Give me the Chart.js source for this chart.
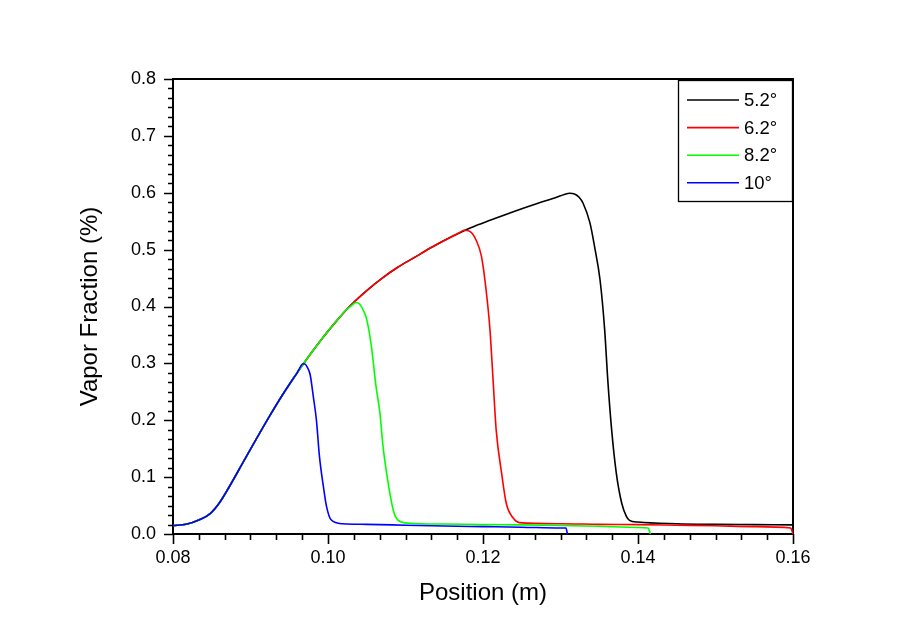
<!DOCTYPE html>
<html>
<head>
<meta charset="utf-8">
<title>Vapor Fraction vs Position</title>
<script src="https://cdn.jsdelivr.net/npm/chart.js@4/dist/chart.umd.min.js"></script>
<style>
  html, body { margin: 0; padding: 0; background: #ffffff; }
  #wrap { width: 911px; height: 634px; position: relative; }
</style>
</head>
<body>
<div id="wrap"><canvas id="c" width="911" height="634"></canvas></div>
<script>
// Shared rising branch (all cone angles follow it until they collapse)
const riseX = [0.0800, 0.0817, 0.0834, 0.0848, 0.0860, 0.0873, 0.0890, 0.0907, 0.0924, 0.0941,
               0.0955, 0.0975, 0.0992, 0.1010, 0.1030, 0.1050, 0.1070, 0.1090, 0.1110, 0.1135,
               0.1160, 0.1185, 0.1210, 0.1240, 0.1270, 0.1295];
const riseY = [0.015, 0.017, 0.025, 0.036, 0.055, 0.084, 0.125, 0.166, 0.206, 0.244,
               0.273, 0.312, 0.343, 0.373, 0.403, 0.428, 0.450, 0.469, 0.485, 0.505,
               0.523, 0.539, 0.552, 0.567, 0.581, 0.592];

// Collapse and tail of each series
const x52 = [0.1305, 0.1312, 0.1318, 0.1324, 0.1329, 0.1338, 0.1344, 0.1351, 0.1357, 0.1361,
             0.1366, 0.1372, 0.1379, 0.1385, 0.1389, 0.1400, 0.1450, 0.1500, 0.1550, 0.1600];
const y52 = [0.597, 0.599, 0.598, 0.592, 0.582, 0.547, 0.505, 0.447, 0.359, 0.271,
             0.183, 0.107, 0.054, 0.031, 0.024, 0.021, 0.018, 0.017, 0.0165, 0.016];

const x62 = [0.1170, 0.1176, 0.1183, 0.1191, 0.1198, 0.1204, 0.1209, 0.1213, 0.1217, 0.1224,
             0.1230, 0.1239, 0.1247, 0.1300, 0.1350, 0.1400, 0.1450, 0.1500, 0.1550, 0.1597, 0.1600];
const y62 = [0.530, 0.534, 0.532, 0.517, 0.488, 0.429, 0.359, 0.271, 0.183, 0.107,
             0.054, 0.028, 0.020, 0.018, 0.017, 0.0165, 0.0155, 0.0145, 0.013, 0.0105, 0.0];

const x82 = [0.1022, 0.1030, 0.1036, 0.1041, 0.1046, 0.1050, 0.1056, 0.1062, 0.1067, 0.1071,
             0.1077, 0.1084, 0.1090, 0.1105, 0.1150, 0.1200, 0.1250, 0.1300, 0.1350, 0.1400,
             0.1413, 0.1416];
const y82 = [0.392, 0.401, 0.407, 0.404, 0.392, 0.377, 0.330, 0.259, 0.213, 0.154,
             0.095, 0.043, 0.025, 0.019, 0.0175, 0.0165, 0.016, 0.015, 0.0135, 0.0115,
             0.0105, 0.0];

const x10 = [0.0960, 0.0964, 0.0967, 0.0970, 0.0973, 0.0977, 0.0981, 0.0985, 0.0989, 0.0994,
             0.0998, 0.1004, 0.1019, 0.1050, 0.1100, 0.1150, 0.1200, 0.1250, 0.1300, 0.1307, 0.1309];
const y10 = [0.283, 0.293, 0.299, 0.299, 0.294, 0.280, 0.242, 0.201, 0.136, 0.084,
             0.049, 0.025, 0.018, 0.017, 0.0155, 0.014, 0.013, 0.012, 0.0105, 0.0105, 0.0];

const seriesLabels = ['5.2°', '6.2°', '8.2°', '10°'];
const seriesColors = ['#000000', '#ff0000', '#00ff00', '#0000ff'];
const seriesX = [x52, x62, x82, x10];
const seriesY = [y52, y62, y82, y10];

const xTicks = [0.08, 0.10, 0.12, 0.14, 0.16];
const yTicks = [0.0, 0.1, 0.2, 0.3, 0.4, 0.5, 0.6, 0.7, 0.8];

const FONT = "'Liberation Sans', Arial, Helvetica, sans-serif";

// Rising branch up to where a series departs, followed by its own branch
function buildPoints(bx, by) {
  const pts = [];
  for (let i = 0; i < riseX.length; i++) {
    if (riseX[i] < bx[0]) pts.push({ x: riseX[i], y: riseY[i] });
  }
  for (let i = 0; i < bx.length; i++) pts.push({ x: bx[i], y: by[i] });
  return pts;
}

const datasets = seriesLabels.map((lab, i) => ({
  label: lab,
  data: buildPoints(seriesX[i], seriesY[i]),
  borderColor: seriesColors[i],
  backgroundColor: seriesColors[i],
  borderWidth: 1.6,
  pointRadius: 0,
  fill: false,
  cubicInterpolationMode: 'monotone',
  order: seriesLabels.length - 1 - i
}));

// Frame, outward major/minor ticks, and boxed legend
const framePlugin = {
  id: 'framePlugin',
  beforeDatasetsDraw(chart) {
    const { ctx, chartArea: a, scales } = chart;
    const xs = scales.x, ys = scales.y;
    ctx.save();
    ctx.strokeStyle = '#000';
    ctx.lineWidth = 2;
    ctx.strokeRect(a.left, a.top, a.right - a.left, a.bottom - a.top);
    ctx.lineWidth = 1.6;
    ctx.beginPath();
    // x ticks: major every 0.02, five minors between
    const xStep = 0.02 / 6;
    for (let k = 0; ; k++) {
      const v = xs.min + k * xStep;
      if (v > xs.max + 1e-9) break;
      const px = Math.round(xs.getPixelForValue(v)) + 0.5;
      const len = (k % 6 === 0) ? 10 : 6;
      ctx.moveTo(px, a.bottom);
      ctx.lineTo(px, a.bottom + len);
    }
    // y ticks: major every 0.1, five minors between
    const yStep = 0.1 / 6;
    for (let k = 0; ; k++) {
      const v = ys.min + k * yStep;
      if (v > ys.max + 1e-9) break;
      const py = Math.round(ys.getPixelForValue(v)) + 0.5;
      const len = (k % 6 === 0) ? 9 : 5;
      ctx.moveTo(a.left, py);
      ctx.lineTo(a.left - len, py);
    }
    ctx.stroke();
    ctx.restore();
  },
  afterDraw(chart) {
    const { ctx, chartArea: a } = chart;
    const boxL = 678, boxT = a.top + 1, boxR = a.right, boxB = 202;
    ctx.save();
    ctx.fillStyle = '#fff';
    ctx.fillRect(boxL, boxT, boxR - boxL, boxB - boxT);
    ctx.strokeStyle = '#000';
    ctx.lineWidth = 1.3;
    ctx.strokeRect(boxL + 0.5, boxT + 0.5, boxR - boxL - 1, boxB - boxT - 1);
    ctx.font = '18.5px ' + FONT;
    ctx.textBaseline = 'middle';
    ctx.textAlign = 'left';
    chart.data.datasets.forEach((ds, i) => {
      const y = 100 + i * 27.6;
      ctx.strokeStyle = ds.borderColor;
      ctx.lineWidth = 1.6;
      ctx.beginPath();
      ctx.moveTo(687, y);
      ctx.lineTo(739, y);
      ctx.stroke();
      ctx.fillStyle = '#000';
      ctx.fillText(ds.label, 744, y + 1);
    });
    ctx.restore();
  }
};

new Chart(document.getElementById('c'), {
  type: 'line',
  data: { datasets },
  plugins: [framePlugin],
  options: {
    responsive: false,
    animation: false,
    layout: { padding: { left: 0, right: 118, top: 79, bottom: 0 } },
    plugins: { legend: { display: false }, tooltip: { enabled: false } },
    scales: {
      x: {
        type: 'linear',
        min: xTicks[0],
        max: xTicks[xTicks.length - 1],
        grid: { display: false, drawTicks: false },
        border: { display: false },
        afterBuildTicks(scale) { scale.ticks = xTicks.map(v => ({ value: v })); },
        afterFit(scale) { scale.height = 100; },
        ticks: {
          color: '#000',
          font: { family: FONT, size: 18 },
          padding: 13,
          maxRotation: 0,
          callback: v => Number(v).toFixed(2)
        },
        title: {
          display: true,
          text: 'Position (m)',
          color: '#000',
          font: { family: FONT, size: 24 },
          padding: { top: 0, bottom: 26 }
        }
      },
      y: {
        type: 'linear',
        min: yTicks[0],
        max: yTicks[yTicks.length - 1],
        grid: { display: false, drawTicks: false },
        border: { display: false },
        afterBuildTicks(scale) { scale.ticks = yTicks.map(v => ({ value: v })); },
        afterFit(scale) { scale.width = 173; },
        ticks: {
          color: '#000',
          font: { family: FONT, size: 18 },
          padding: 17,
          callback: v => Number(v).toFixed(1)
        },
        title: {
          display: true,
          text: 'Vapor Fraction (%)',
          color: '#000',
          font: { family: FONT, size: 24 },
          padding: { top: 76, bottom: 0 }
        }
      }
    }
  }
});
</script>
</body>
</html>
